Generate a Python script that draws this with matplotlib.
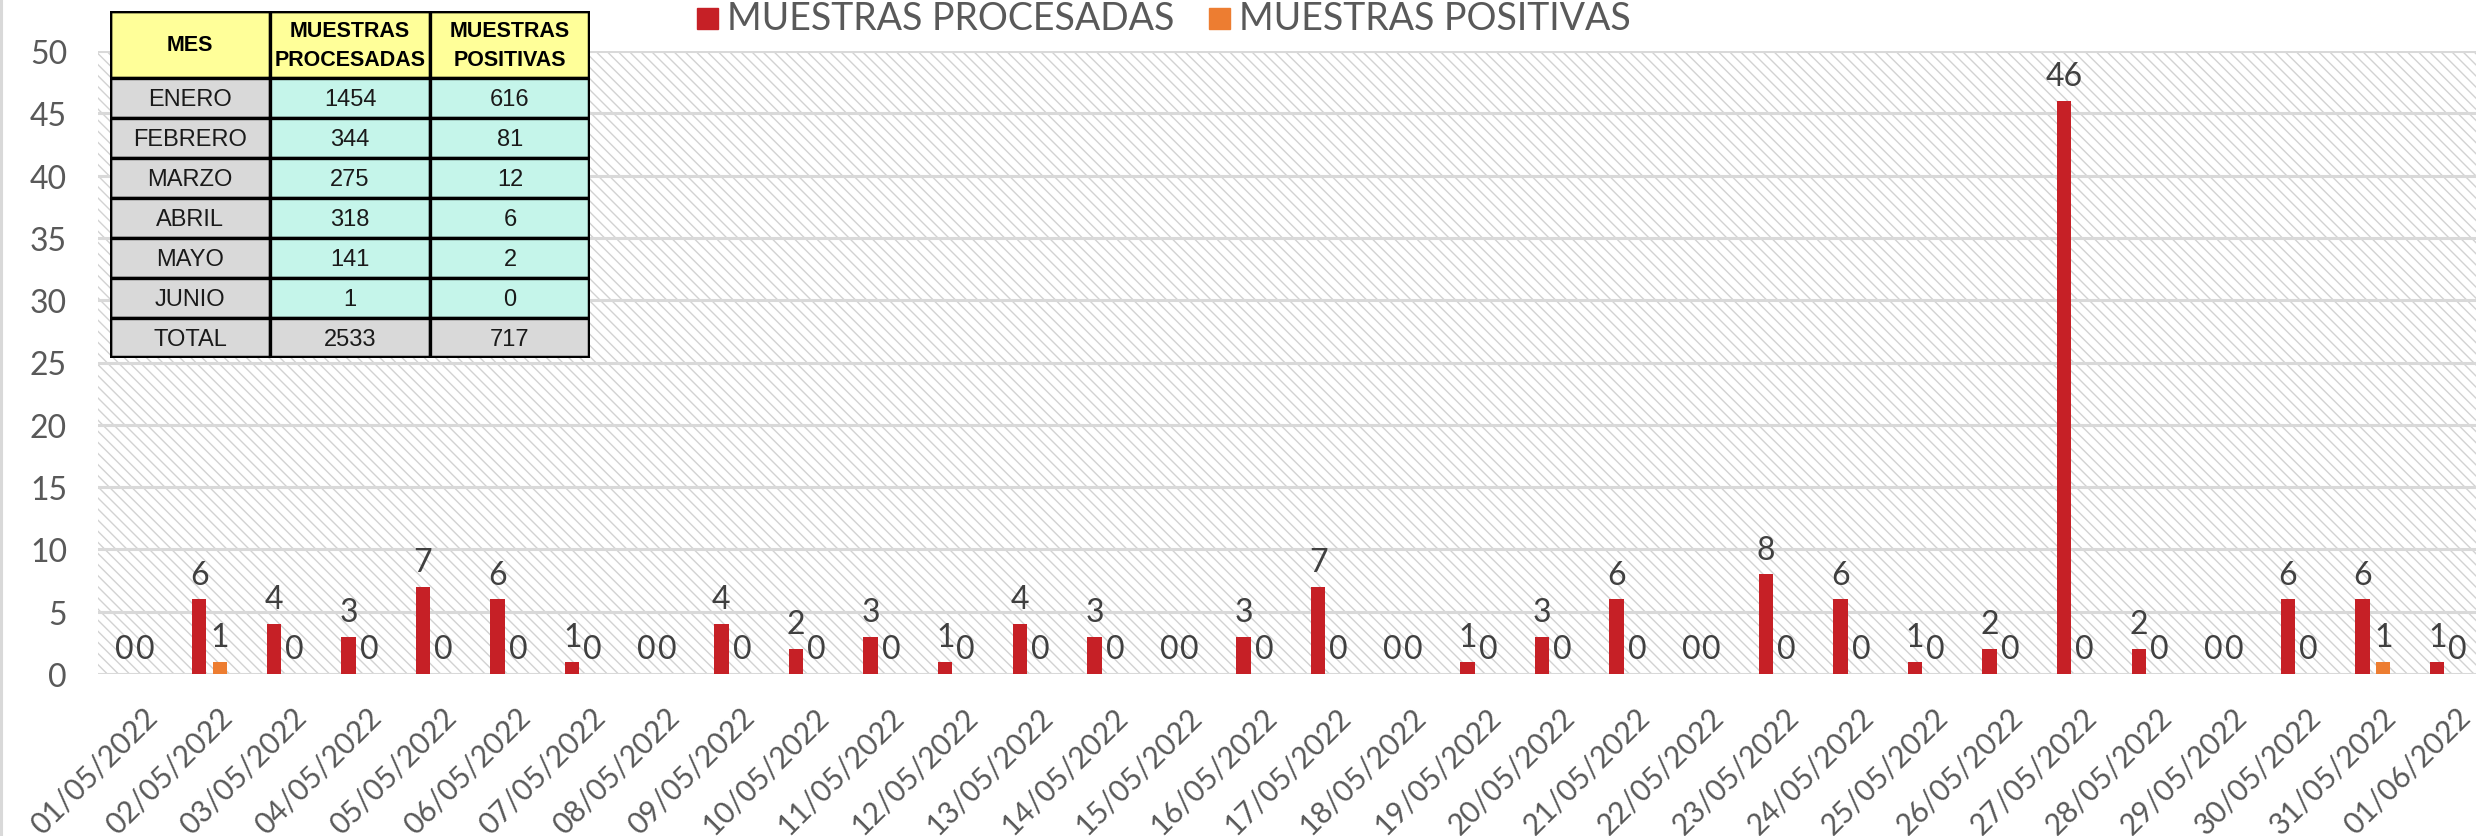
import numpy as np
import matplotlib
matplotlib.use("Agg")
import matplotlib.pyplot as plt
from matplotlib.patches import Rectangle
from matplotlib.lines import Line2D
import matplotlib.transforms as mtransforms

# data
fechas = ['01/05/2022', '02/05/2022', '03/05/2022', '04/05/2022', '05/05/2022',
          '06/05/2022', '07/05/2022', '08/05/2022', '09/05/2022', '10/05/2022',
          '11/05/2022', '12/05/2022', '13/05/2022', '14/05/2022', '15/05/2022',
          '16/05/2022', '17/05/2022', '18/05/2022', '19/05/2022', '20/05/2022',
          '21/05/2022', '22/05/2022', '23/05/2022', '24/05/2022', '25/05/2022',
          '26/05/2022', '27/05/2022', '28/05/2022', '29/05/2022', '30/05/2022',
          '31/05/2022', '01/06/2022']
procesadas = [0, 6, 4, 3, 7, 6, 1, 0, 4, 2, 3, 1, 4, 3, 0, 3,
              7, 0, 1, 3, 6, 0, 8, 6, 1, 2, 46, 2, 0, 6, 6, 1]
positivas = [0, 1, 0, 0, 0, 0, 0, 0, 0, 0, 0, 0, 0, 0, 0, 0,
             0, 0, 0, 0, 0, 0, 0, 0, 0, 0, 0, 0, 0, 0, 1, 0]

serie_names = ['MUESTRAS PROCESADAS', 'MUESTRAS POSITIVAS']

tabla_header = ['MES', 'MUESTRAS\nPROCESADAS', 'MUESTRAS\nPOSITIVAS']
tabla_meses = ['ENERO', 'FEBRERO', 'MARZO', 'ABRIL', 'MAYO', 'JUNIO', 'TOTAL']
tabla_proc = [1454, 344, 275, 318, 141, 1, 2533]
tabla_pos = [616, 81, 12, 6, 2, 0, 717]

RED = '#C62026'
ORANGE = '#ED7D31'
GRID = '#D9D9D9'
TXT = '#595959'
LBL = '#404040'

plt.rcParams['font.family'] = ['Lato', 'DejaVu Sans']
plt.rcParams['hatch.linewidth'] = 1.0

W, H = 2476, 837
fig = plt.figure(figsize=(W / 100, H / 100), dpi=100)

# main axes (pixel based layout)
x0, y_top, y_zero = 97.6, 52, 675
step = 74.6
ax = fig.add_axes([x0 / W, 1 - y_zero / H, (W - x0) / W, (y_zero - y_top) / H])
ax.set_xlim(-0.5, -0.5 + (W - x0) / step)
ax.set_ylim(0, 50)

bg = Rectangle((0, 0), 1, 1, transform=ax.transAxes, facecolor='white',
               edgecolor='#D2D2D2', hatch='\\\\\\', lw=0, zorder=0)
ax.add_patch(bg)

x = np.arange(len(fechas))
bw = 0.193
off = 0.138
b1 = ax.bar(x - off, procesadas, width=bw, color=RED, zorder=3)
b2 = ax.bar(x + off, positivas, width=bw, color=ORANGE, zorder=3)

for bars, vals in [(b1, procesadas), (b2, positivas)]:
    for rect, v in zip(bars, vals):
        ax.annotate(f'{v}', (rect.get_x() + rect.get_width() / 2, v),
                    xytext=(0, 7), textcoords='offset points',
                    ha='center', va='bottom', fontsize=23, color=LBL, zorder=4)

ax.set_yticks(np.arange(0, 51, 5))
ax.yaxis.grid(True, color=GRID, lw=2.2, zorder=1)
ax.set_axisbelow(True)
for s in ax.spines.values():
    s.set_visible(False)
ax.tick_params(axis='y', length=0, pad=22, labelsize=23, labelcolor=TXT)
ax.tick_params(axis='x', length=0, pad=20, labelsize=21.5, labelcolor=TXT)
ax.set_xticks(x)
ax.set_xticklabels(fechas, rotation=45, ha='right', va='top', rotation_mode='anchor')
shift = mtransforms.ScaledTranslation(8 / 100, 0, fig.dpi_scale_trans)
for lab in ax.get_xticklabels():
    lab.set_transform(lab.get_transform() + shift)

# left border of the chart
fig.add_artist(Line2D([1 / W, 1 / W], [0, 1], color=GRID, lw=2.2))

# legend
def legend_item(px, color, text):
    fig.add_artist(Rectangle((px / W, 1 - 30 / H), 21 / W, 21 / H, color=color,
                             transform=fig.transFigure))
    fig.text((px + 30) / W, 1 - 19 / H, text, fontsize=27, color=TXT,
             ha='left', va='center')

legend_item(697, RED, serie_names[0])
legend_item(1209, ORANGE, serie_names[1])

# summary table
tx, ty, tw, th = 110, 12, 480, 347
tax = fig.add_axes([tx / W, 1 - (ty + th) / H, tw / W, th / H], zorder=5)
tax.set_xlim(0, tw)
tax.set_ylim(th, 0)
tax.axis('off')
col_w = tw / 3
head_h = 67
row_h = (th - head_h) / len(tabla_meses)
tfont = ['Liberation Sans Narrow', 'Liberation Sans', 'DejaVu Sans']

for j, txt in enumerate(tabla_header):
    tax.add_patch(Rectangle((j * col_w, 0), col_w, head_h, facecolor='#FFFF99',
                            edgecolor='black', lw=2.4))
    tax.text((j + 0.5) * col_w, head_h / 2, txt, ha='center', va='center',
             fontsize=15.5, fontweight='bold', family=tfont, linespacing=1.5)

for i, (mes, p, q) in enumerate(zip(tabla_meses, tabla_proc, tabla_pos)):
    y = head_h + i * row_h
    total = mes == 'TOTAL'
    cols = ['#D9D9D9', '#D9D9D9' if total else '#C5F5EA', '#D9D9D9' if total else '#C5F5EA']
    for j, (c, v) in enumerate(zip(cols, [mes, p, q])):
        tax.add_patch(Rectangle((j * col_w, y), col_w, row_h, facecolor=c,
                                edgecolor='black', lw=2.4))
        tax.text((j + 0.5) * col_w, y + row_h / 2 + 1, f'{v}', ha='center', va='center',
                 fontsize=17, family=tfont, color='#1a1a1a')
tax.add_patch(Rectangle((0, 0), tw, th, fill=False, edgecolor='black', lw=3.2))

fig.savefig('out.png', dpi=100)
